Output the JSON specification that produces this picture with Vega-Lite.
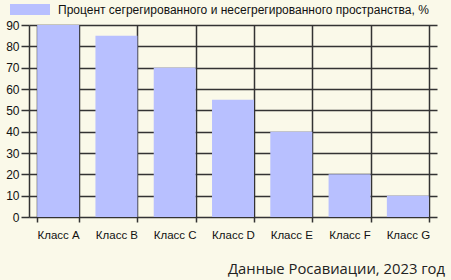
{
  "$schema": "https://vega.github.io/schema/vega-lite/v6.json",
  "width": 408,
  "height": 192,
  "autosize": {"type": "none"},
  "padding": {"left": 29, "top": 25, "right": 14, "bottom": 63},
  "background": "#FAF9E9",
  "config": {
    "view": {"stroke": null},
    "font": "Liberation Sans"
  },
  "title": {
    "text": "Данные Росавиации, 2023 год",
    "orient": "bottom",
    "anchor": "end",
    "frame": "group",
    "font": "Open Sans",
    "fontSize": 14.8,
    "fontWeight": "normal",
    "color": "#222222",
    "offset": 21,
    "dx": 8
  },
  "data": {
    "values": [
      {"class": "Класс A", "value": 90},
      {"class": "Класс B", "value": 85},
      {"class": "Класс C", "value": 70},
      {"class": "Класс D", "value": 55},
      {"class": "Класс E", "value": 40},
      {"class": "Класс F", "value": 20},
      {"class": "Класс G", "value": 10}
    ]
  },
  "mark": {"type": "bar"},
  "encoding": {
    "x": {
      "field": "class",
      "type": "nominal",
      "sort": null,
      "scale": {"paddingInner": 0.28, "paddingOuter": 0.14},
      "axis": {
        "title": null,
        "labelAngle": 0,
        "labelFontSize": 11.5,
        "labelColor": "#111111",
        "tickBand": "extent",
        "grid": true,
        "gridColor": "#333333",
        "gridWidth": 1.5,
        "gridOpacity": 1,
        "ticks": true,
        "tickSize": 5,
        "tickColor": "#333333",
        "tickWidth": 1.5,
        "domain": false,
        "labelPadding": 7
      }
    },
    "y": {
      "field": "value",
      "type": "quantitative",
      "scale": {"domain": [0, 90], "nice": false},
      "axis": {
        "title": null,
        "values": [0, 10, 20, 30, 40, 50, 60, 70, 80, 90],
        "labelFontSize": 12,
        "labelColor": "#111111",
        "grid": true,
        "gridColor": "#333333",
        "gridWidth": 1.5,
        "gridOpacity": 1,
        "tickSize": 8,
        "tickColor": "#333333",
        "tickWidth": 1.5,
        "domain": true,
        "domainColor": "#333333",
        "domainWidth": 1.5,
        "labelPadding": 2
      }
    },
    "color": {
      "datum": "Процент сегрегированного и несегрегированного пространства, %",
      "type": "nominal",
      "scale": {"range": ["#B8C0FF"]},
      "legend": {
        "title": null,
        "orient": "none",
        "legendX": -19,
        "legendY": -35.5,
        "padding": 0,
        "symbolType": "M-1,-0.275H1V0.275H-1Z",
        "symbolSize": 1600,
        "symbolStrokeWidth": 0,
        "labelFontSize": 12,
        "labelColor": "#111111",
        "labelOffset": 8,
        "labelLimit": 500
      }
    }
  }
}
